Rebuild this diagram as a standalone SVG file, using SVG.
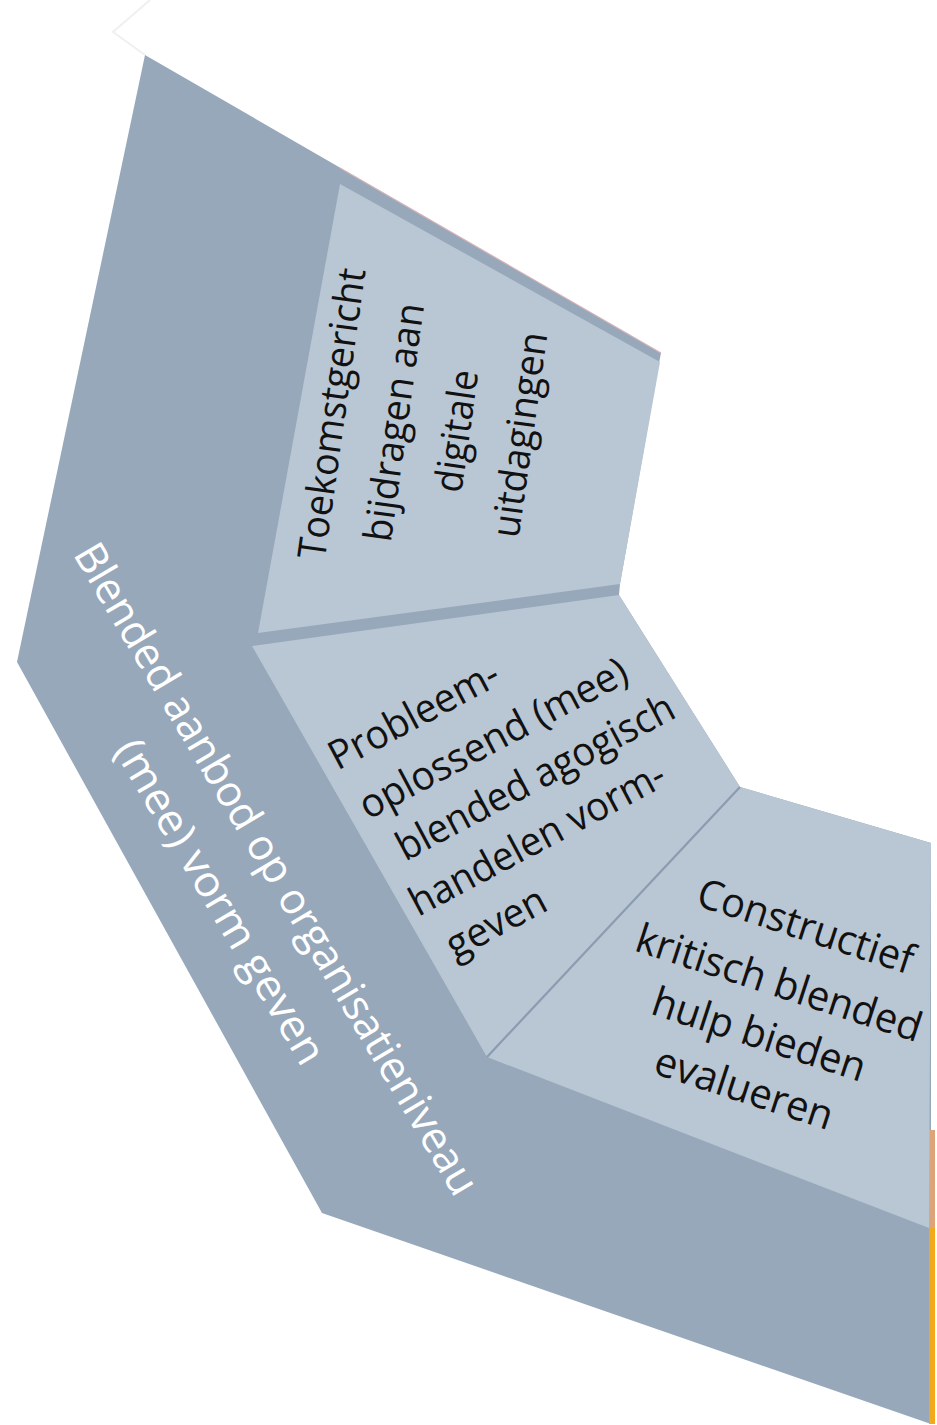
<svg xmlns="http://www.w3.org/2000/svg" width="937" height="1425" viewBox="0 0 937 1425">
  <style>
    .dark { fill: #97a8bb; }
    .panel { fill: #b9c6d3; }
    .sep { stroke: #8c9cb0; stroke-width: 2.2; fill: none; }
    .txt { font-family: "Open Sans", "Liberation Sans", sans-serif; fill: #111111; text-anchor: middle; }
    .wtxt { font-family: "Open Sans", "Liberation Sans", sans-serif; fill: #ffffff; text-anchor: middle; }
  </style>
  <rect width="937" height="1425" fill="#ffffff"/>
  <g id="base">
    <polyline points="150,0 113,32 145,55" fill="none" stroke="#eef0f2" stroke-width="2"/>
    <polygon class="dark" points="145,55 661,353 659,363 620,584 619,595 740,787 931,843 931,1424 322,1213 17,662"/>
    <line x1="340" y1="168" x2="661" y2="353" stroke="#d7b3b8" stroke-width="1.2"/>
    <rect x="929" y="1130" width="6" height="100" fill="#dca579"/>
    <rect x="929" y="1228" width="6" height="196" fill="#f2aa1c"/>
    <text class="wtxt" font-size="43" transform="translate(277,875) rotate(59.3)">
      <tspan x="0" y="12" textLength="750" lengthAdjust="spacingAndGlyphs">Blended aanbod op organisatieniveau</tspan>
      <tspan x="-6" y="77" textLength="370" lengthAdjust="spacingAndGlyphs">(mee) vorm geven</tspan>
    </text>
  </g>
  <g id="node-top">
    <polygon class="panel" points="340,184 660,362 620,584 258,633"/>
    <text class="txt" font-size="39" transform="translate(429,422) rotate(-82)">
      <tspan x="0" y="-84" textLength="293" lengthAdjust="spacingAndGlyphs">Toekomstgericht</tspan>
      <tspan x="0" y="-21" textLength="240" lengthAdjust="spacingAndGlyphs">bijdragen aan</tspan>
      <tspan x="0" y="42" textLength="123" lengthAdjust="spacingAndGlyphs">digitale</tspan>
      <tspan x="0" y="105" textLength="207" lengthAdjust="spacingAndGlyphs">uitdagingen</tspan>
    </text>
  </g>
  <g id="node-middle">
    <polygon class="panel" points="252,646 619,595 740,787 487,1057"/>
    <text class="txt" font-size="40" transform="translate(533,779) rotate(-28)">
      <tspan x="-70" y="-99" textLength="187" lengthAdjust="spacingAndGlyphs">Probleem-</tspan>
      <tspan x="-11" y="-41" textLength="298" lengthAdjust="spacingAndGlyphs">oplossend (mee)</tspan>
      <tspan x="8" y="13" textLength="309" lengthAdjust="spacingAndGlyphs">blended agogisch</tspan>
      <tspan x="-19" y="68" textLength="284" lengthAdjust="spacingAndGlyphs">handelen vorm-</tspan>
      <tspan x="-100" y="123" textLength="108" lengthAdjust="spacingAndGlyphs">geven</tspan>
    </text>
  </g>
  <g id="node-right">
    <polygon class="panel" points="740,787 931,843 929,1228 487,1057"/>
    <text class="txt" font-size="41" transform="translate(810,931) rotate(18)">
      <tspan x="0" y="11" textLength="225" lengthAdjust="spacingAndGlyphs">Constructief</tspan>
      <tspan x="-8" y="73" textLength="298" lengthAdjust="spacingAndGlyphs">kritisch blended</tspan>
      <tspan x="-11" y="128" textLength="222" lengthAdjust="spacingAndGlyphs">hulp bieden</tspan>
      <tspan x="-14" y="184" textLength="185" lengthAdjust="spacingAndGlyphs">evalueren</tspan>
    </text>
  </g>
  <g id="connectors">
    <line class="sep" x1="740" y1="787" x2="487" y2="1057"/>
  </g>
</svg>
